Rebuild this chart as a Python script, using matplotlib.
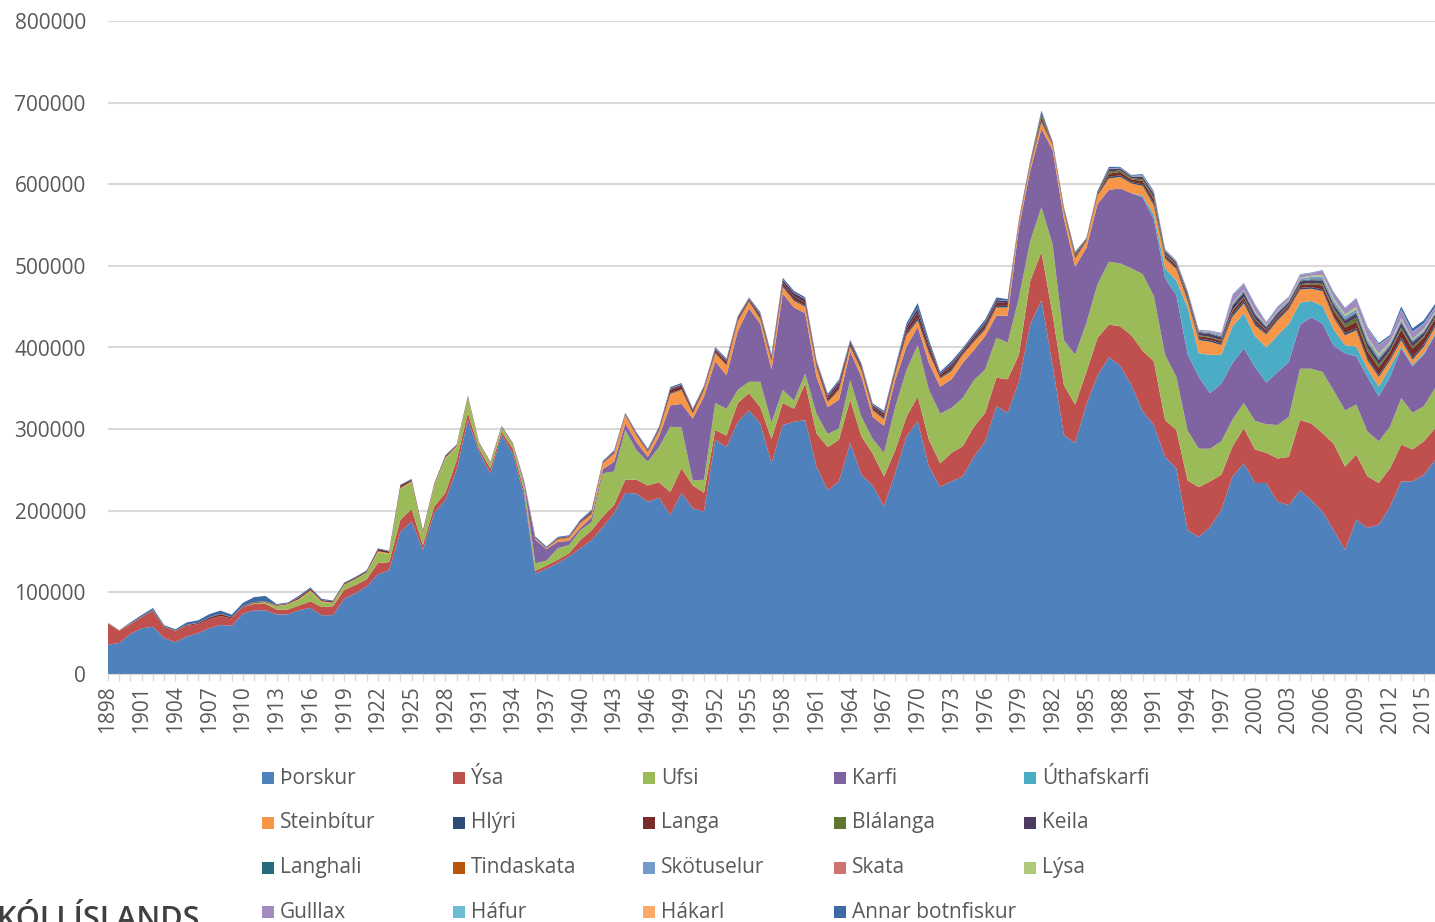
import matplotlib
matplotlib.use('Agg')
import matplotlib.pyplot as plt
from matplotlib.patches import Rectangle

plt.rcParams['font.family'] = ['Open Sans', 'DejaVu Sans']

# catch per species, thousands of tonnes, 1898-2016
years = list(range(1898, 2017))

thorskur = [
    36, 38, 49, 56, 58, 44, 39, 46, 50, 56,
    60, 59, 74, 78, 78, 73, 73, 78, 81, 72,
    72, 92, 99, 107, 122, 127, 174, 187, 152, 197,
    213, 250, 311, 272, 246, 293, 270, 219, 123, 129,
    136, 144, 154, 164, 180, 197, 222, 221, 211, 216,
    195, 222, 203, 199, 287, 278, 309, 323, 307, 258,
    305, 309, 311, 254, 225, 236, 283, 244, 231, 205,
    246, 291, 310, 254, 229, 236, 242, 266, 285, 328,
    320, 358, 428, 458, 378, 293, 283, 330, 366, 388,
    378, 354, 322, 305, 266, 252, 176, 168, 180, 201,
    242, 258, 234, 234, 211, 207, 225, 213, 199, 176,
    152, 189, 179, 183, 205, 236, 236, 244, 262,
]
ysa = [
    26, 15, 12, 13, 19, 13, 13, 13, 11, 11,
    11, 9, 8, 8, 8, 6, 6, 6, 8, 10,
    11, 11, 10, 9, 14, 10, 15, 15, 6, 8,
    9, 12, 9, 4, 6, 4, 6, 6, 3.5, 4,
    4, 4, 10, 12, 13, 10, 16, 17, 20, 19,
    28, 30, 28, 23, 12, 14, 23, 21, 20, 30,
    27, 16, 45, 41, 53, 51, 53, 47, 39, 37,
    28, 24, 30, 33, 29, 35, 37, 37, 35, 35,
    41, 33, 53, 59, 62, 61, 47, 40, 46, 40,
    48, 61, 74, 78, 45, 47, 61, 61, 56, 43,
    37, 43, 41, 37, 53, 59, 86, 94, 96, 106,
    102, 80, 63, 51, 47, 45, 39, 41, 39,
]
ufsi = [0] * 13 + [
    1, 2, 4, 6, 7, 12, 6,
    4, 6, 7, 8, 13, 10, 38, 33, 14, 25,
    42, 16, 18, 6, 6, 5, 5, 7, 9, 6,
    14, 10, 12, 10, 53, 41, 61, 36, 29, 43,
    80, 50, 6, 16, 33, 33, 16, 14, 31, 20,
    16, 10, 12, 24, 16, 14, 24, 24, 18, 29,
    53, 57, 63, 61, 61, 55, 59, 57, 53, 49,
    45, 70, 49, 55, 86, 55, 61, 60, 66, 77,
    77, 82, 94, 80, 80, 65, 61, 47, 40, 41,
    33, 31, 35, 35, 41, 49, 63, 67, 75, 65,
    69, 61, 55, 51, 51, 57, 45, 43, 49,
]
karfi = [0] * 37 + [
    4, 29, 14,
    8, 5, 3, 6, 5, 12, 8, 10, 6, 13,
    26, 29, 76, 102, 51, 41, 72, 90, 71, 65,
    118, 114, 74, 45, 33, 35, 35, 49, 27, 33,
    33, 29, 22, 33, 33, 35, 43, 37, 41, 27,
    33, 86, 86, 96, 116, 149, 108, 92, 98, 88,
    92, 92, 94, 94, 94, 100, 94, 88, 68, 71,
    69, 67, 66, 51, 65, 67, 54, 63, 59, 55,
    70, 59, 67, 55, 61, 61, 57, 63, 65,
]
uthafskarfi = [0] * 92 + [
    2, 6, 12, 18, 57, 29, 47, 35, 45, 43,
    38, 43, 45, 47, 27, 20, 22, 20, 10, 12,
    10, 12, 12, 2, 2, 2, 2,
]
steinbitur = [0] * 15 + [
    0.5, 0.5, 1, 1.5, 1, 0.5, 0.5, 0.5, 0.5, 1.5,
    1, 1, 1, 1, 1, 1, 1, 1, 0.5, 0.5,
    0.5, 0.5, 0.5, 1.5, 1,
    3, 4, 6, 4, 7, 10, 10, 8, 6, 7,
    14, 17, 6, 8, 10, 12, 12, 8, 6, 10,
    8, 8, 8, 12, 6, 12, 6, 8, 8, 8,
    8, 14, 8, 12, 10, 10, 10, 10, 8, 10,
    10, 6, 6, 8, 6, 8, 10, 8, 10, 14,
    14, 12, 12, 11, 12, 14, 8, 16, 16, 12,
    12, 12, 13, 16, 18, 18, 16, 15, 18, 14,
    12, 20, 10, 12, 8, 8, 6, 8, 8,
]
hlyri = [0] * 40 + [
    0.5, 0.5, 0.5, 1, 0.5, 0.5, 0.5, 0.5, 0.5, 1,
    1, 1, 1, 1, 1, 1, 1, 1, 1, 1,
    1.5, 1.5, 1.5, 1, 1, 1.5, 1, 1, 1, 1.5,
    1, 2, 3, 2, 1, 2, 1, 1.5, 2, 2,
    2, 1, 1, 2, 0.5, 1, 1, 0.5, 1, 2,
    2, 1.5, 2, 2.5, 1.5, 1.5, 2, 2, 2, 2,
    3, 3, 3, 2, 2, 2, 2, 2, 2, 2,
    2.5, 2.5, 2.5, 2.5, 2.5, 3, 3, 3, 3,
]
langa = [
    0.2, 0.2, 0.5, 1, 1, 1, 1, 1, 1.5, 2,
    2.5, 1.5, 1, 1, 1, 1, 1, 2, 2, 1.5,
    1.5, 1.5, 1.5, 1.5, 2.5, 2, 3, 2, 2, 1.5,
    2, 1.5, 1.5, 1, 1, 1, 1, 0.5, 0.5, 0.5,
    1, 1, 1.5, 2, 1, 1.5, 1, 1.5, 1.5, 2,
    4, 4, 3, 2, 3, 3.5, 2.5, 2, 3, 3,
    4, 4, 3.5, 3, 4, 5, 3, 3, 3, 3.5,
    3, 5, 7, 6, 3, 4, 3, 3.5, 4, 4,
    3.5, 1.5, 2, 4, 1.5, 2, 2.5, 1.5, 2, 4,
    4, 3.5, 4, 5, 3, 3, 3.5, 3, 3, 3,
    4, 4, 4, 3, 3, 3, 3.5, 3.5, 5, 6.5,
    7, 8, 8.5, 9, 8, 10, 10.5, 8, 7,
]
blalanga = [0] * 82 + [
    1, 3, 0.5, 1, 1.5, 0.5, 1, 2.5, 2, 1.5,
    2, 2.5, 1.5, 1, 1, 1, 1, 1, 1, 1,
    1, 0.5, 0.5, 0.5, 1, 1.5, 2, 3, 4, 5,
    4.5, 3.5, 2, 2.5, 2.5, 2, 2,
]
keila = [0] * 40 + [
    0.5, 0.5, 0.5, 0.5, 0.5, 0.5, 0.5, 0.5, 0.5, 0.5,
    1.5, 1.5, 1, 1, 1.5, 2, 1.5, 1, 2, 2,
    3.5, 4.5, 4, 2.5, 3, 3.5, 2.5, 2.5, 2.5, 3,
    2.5, 4, 5, 4, 2, 3, 2, 2.5, 3, 3,
    2.5, 1, 1.5, 3, 1, 1.5, 2, 1, 1.5, 3,
    2.5, 2, 3, 4, 3, 2.5, 3, 3, 3.5, 3.5,
    5, 5, 5, 3, 3.5, 3, 3.5, 3.5, 4, 4.5,
    4.5, 5, 5.5, 5.5, 5, 5.5, 5, 4, 3.5,
]
langhali = [0] * 92 + [
    0.5, 0.5, 0.5, 0.5, 1, 1, 1, 1, 1.5, 1.5,
    1.5, 1, 1, 1, 1, 1, 1.5, 1.5, 1.5, 1.5,
    1.5, 1.5, 1, 1.5, 1.5, 1, 1,
]
tindaskata = [0] * 92 + [
    0.2, 0.2, 0.2, 0.3, 0.3, 0.3, 0.3, 0.3, 0.3, 0.3,
    0.3, 0.3, 0.3, 0.3, 0.3, 0.3, 0.3, 0.3, 0.2, 0.2,
    0.2, 0.2, 0.2, 0.2, 0.2, 0.2, 0.2,
]
skotuselur = [0] * 89 + [
    0.5, 0.5, 0.5, 1, 1, 1, 1, 1, 1, 1, 1,
    1, 1, 1, 1, 1.5, 1.5, 2, 2.5, 3, 3.5,
    3.5, 3.5, 3, 3, 2, 2, 1.5, 1.5, 1,
]
skata = [0] * 50 + [
    0.5, 0.5, 0.5, 0.5, 0.5, 0.5, 0.5, 0.5, 0.5, 0.5,
    0.5, 0.5, 0.5, 0.5, 0.5, 0.5, 0.5, 0.5, 0.5, 0.5,
    0.5, 0.5, 0.5, 0.3, 0.3, 0.3, 0.3, 0.3, 0.3, 0.3,
    0.3, 0.3, 0.3, 0.3, 0.3, 0.3, 0.3, 0.3, 0.3, 0.3,
    0.3, 0.3, 0.3, 0.3, 0.3, 0.3, 0.3, 0.3, 0.3, 0.3,
    0.2, 0.2, 0.2, 0.2, 0.2, 0.2, 0.2, 0.2, 0.2, 0.2,
    0.2, 0.2, 0.2, 0.2, 0.2, 0.2, 0.2, 0.2, 0.2,
]
lysa = [0] * 100 + [
    0.5, 0.5, 1, 0.5, 0.5, 0.5, 1, 1.5, 2, 2.5,
    2.5, 3, 3, 3, 2, 2, 1.5, 1.5, 1,
]
gulllax = [0] * 97 + [
    0.5, 1, 2, 9, 7.5, 8, 3, 4, 2.5, 3.5,
    3, 5, 7, 7, 10, 11, 10.5, 6, 10, 8,
    6.5, 5,
]
hafur = [0] * 99 + [
    0.3, 0.5, 0.5, 0.5, 0.3, 0.3, 0.3, 0.3, 0.3, 0.3,
    0.3, 0.3, 0.3, 0.5, 0.5, 0.5, 0.5, 0.5, 0.5, 0.5,
]
hakarl = [
    0.3, 0.3, 0.3, 0.3, 0.3, 0.3, 0.3, 0.2, 0.2, 0.2,
    0.2, 0.2, 0.2, 0.2, 0.2, 0.2, 0.1, 0.1, 0.1, 0.1,
] + [0] * 99
annar = [
    0.3, 0.3, 1.5, 2, 2.5, 1.5, 1.5, 3, 3, 4,
    4, 3, 4, 6, 6.5, 1, 1, 2, 1.5, 1.5,
    1, 1, 1, 1, 1, 1, 1, 1, 1, 0.5,
    1, 0.5, 0.5, 0.5, 0.5, 0.5, 0.5, 0.5, 2, 1.5,
    1, 1, 1.5, 1.5, 1, 1.5, 1, 1.5, 1.5, 1.5,
    1.5, 1.5, 1, 1, 1.5, 1.5, 1, 1, 2, 2,
    2, 2, 2, 1.5, 2, 2, 1.5, 1.5, 1.5, 2,
    1.5, 3, 6, 4, 2, 3, 2, 2.5, 3, 3,
    2, 0.5, 0.5, 2, 0.5, 0.5, 1, 0.5, 0.5, 2,
    1, 1, 1.5, 1.5, 0.5, 0.5, 0.5, 0.5, 0.5, 0.5,
    1, 0.5, 0.5, 0.5, 0.5, 0.5, 0.5, 0.5, 0.5, 0.5,
    0.5, 0.5, 1, 2, 2, 4, 4, 4, 4,
]

names = ['Þorskur', 'Ýsa', 'Ufsi', 'Karfi', 'Úthafskarfi',
         'Steinbítur', 'Hlýri', 'Langa', 'Blálanga', 'Keila',
         'Langhali', 'Tindaskata', 'Skötuselur', 'Skata', 'Lýsa',
         'Gulllax', 'Háfur', 'Hákarl', 'Annar botnfiskur']
series = [thorskur, ysa, ufsi, karfi, uthafskarfi,
          steinbitur, hlyri, langa, blalanga, keila,
          langhali, tindaskata, skotuselur, skata, lysa,
          gulllax, hafur, hakarl, annar]
colors = ['#4F81BD', '#C0504D', '#9BBB59', '#8064A2', '#4BACC6',
          '#F79646', '#2C4D75', '#772C2A', '#5F7530', '#4D3B62',
          '#276A7C', '#B65708', '#729ACA', '#CD7371', '#AFC97A',
          '#A18BBE', '#6CBDD3', '#F9AB6B', '#3C6AA5']

W, H = 1435, 922
fig = plt.figure(figsize=(W / 100, H / 100), dpi=100)
ax = fig.add_axes([108 / W, 1 - 674 / H, 1 - 108 / W, (674 - 21) / H])

tonnes = [[v * 1000 for v in s] for s in series]
ax.stackplot(years, *tonnes, colors=colors, labels=names, linewidth=0, zorder=2)

ax.set_xlim(1898, 2016)
ax.set_ylim(0, 800000)
ax.set_yticks(range(0, 800001, 100000))
ax.set_yticklabels([str(v) for v in range(0, 800001, 100000)])
ax.set_xticks(years)
ax.set_xticklabels([str(y) if (y - 1898) % 3 == 0 else '' for y in years], rotation=90)

grey = '#595959'
ax.tick_params(axis='y', length=0, pad=16, labelsize=15, labelcolor=grey)
ax.tick_params(axis='x', length=5, width=1, color='#D9D9D9', pad=3, labelsize=15, labelcolor=grey)
ax.grid(axis='y', color='#D9D9D9', linewidth=1.5, zorder=0)
ax.set_axisbelow(True)
for side in ['top', 'right', 'left']:
    ax.spines[side].set_visible(False)
ax.spines['bottom'].set_color('#D9D9D9')

# legend laid out as in the original: 5 equal columns, filled row by row
for i, name in enumerate(names):
    row, col = divmod(i, 5)
    x = 262 + col * 190.6
    y = 778 + row * 44.8
    fig.patches.append(Rectangle((x / W, 1 - (y + 6) / H), 12 / W, 12 / H,
                                 transform=fig.transFigure, facecolor=colors[i],
                                 edgecolor='none'))
    fig.text((x + 18) / W, 1 - y / H, name, fontsize=15, color=grey,
             ha='left', va='center')

# logo text, cut off at the bottom left as in the original
fig.text(-0.002, -0.006, 'KÓLI ÍSLANDS', fontsize=22, color='#404040',
         ha='left', va='baseline', fontweight='semibold')

fig.savefig('out.png', dpi=100)
